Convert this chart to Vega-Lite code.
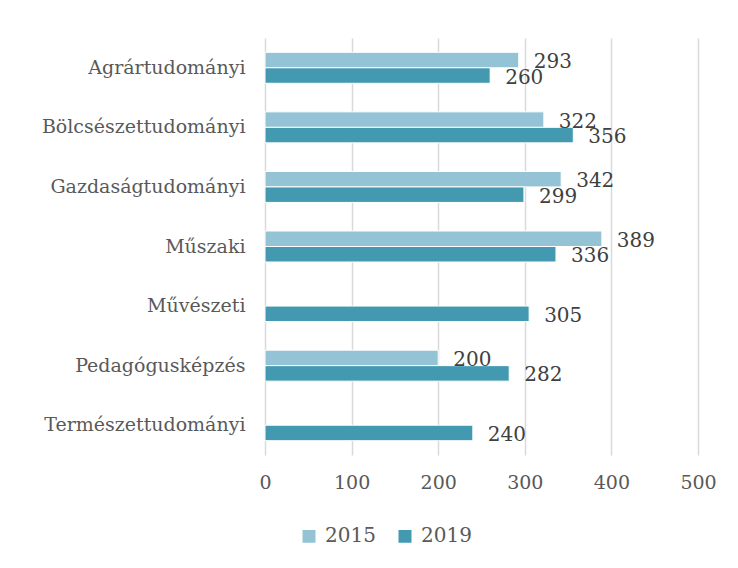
{
  "$schema": "https://vega.github.io/schema/vega-lite/v6.json",
  "autosize": "none",
  "width": 433,
  "height": 417,
  "padding": {"left": 265, "top": 38, "right": 40, "bottom": 113},
  "background": "white",
  "config": {
    "view": {"stroke": null},
    "font": "DejaVu Serif"
  },
  "data": {
    "values": [
      {"kar": "Agrártudományi", "ev": "2015", "ertek": 293},
      {"kar": "Agrártudományi", "ev": "2019", "ertek": 260},
      {"kar": "Bölcsészettudományi", "ev": "2015", "ertek": 322},
      {"kar": "Bölcsészettudományi", "ev": "2019", "ertek": 356},
      {"kar": "Gazdaságtudományi", "ev": "2015", "ertek": 342},
      {"kar": "Gazdaságtudományi", "ev": "2019", "ertek": 299},
      {"kar": "Műszaki", "ev": "2015", "ertek": 389},
      {"kar": "Műszaki", "ev": "2019", "ertek": 336},
      {"kar": "Művészeti", "ev": "2019", "ertek": 305},
      {"kar": "Pedagógusképzés", "ev": "2015", "ertek": 200},
      {"kar": "Pedagógusképzés", "ev": "2019", "ertek": 282},
      {"kar": "Természettudományi", "ev": "2019", "ertek": 240}
    ]
  },
  "encoding": {
    "y": {
      "field": "kar",
      "type": "nominal",
      "sort": null,
      "scale": {"paddingInner": 0.48, "paddingOuter": 0.24},
      "axis": {
        "title": null,
        "domain": false,
        "ticks": false,
        "labelPadding": 20,
        "labelFontSize": 19,
        "labelLimit": 300,
        "labelColor": "#595959",
        "labelFont": "DejaVu Serif"
      }
    },
    "yOffset": {"field": "ev", "type": "nominal", "scale": {"domain": ["2015", "2019"]}},
    "x": {
      "field": "ertek",
      "type": "quantitative",
      "scale": {"domain": [0, 500]},
      "axis": {
        "title": null,
        "domain": false,
        "ticks": false,
        "values": [0, 100, 200, 300, 400, 500],
        "labelOverlap": false,
        "labelFlush": false,
        "labelPadding": 18,
        "labelFontSize": 19,
        "labelColor": "#595959",
        "labelFont": "DejaVu Serif",
        "gridColor": "#D9D9D9",
        "gridWidth": 1.5
      }
    }
  },
  "layer": [
    {
      "mark": {"type": "bar", "stroke": "white", "strokeWidth": 1},
      "encoding": {
        "color": {
          "field": "ev",
          "type": "nominal",
          "scale": {"domain": ["2015", "2019"], "range": ["#93C3D4", "#4299B0"]},
          "legend": {
            "title": null,
            "orient": "none",
            "legendX": 34,
            "legendY": 488,
            "direction": "horizontal",
            "symbolType": "square",
            "symbolSize": 210,
            "labelFontSize": 20,
            "labelColor": "#595959",
            "labelFont": "DejaVu Serif",
            "labelOffset": 6,
            "columnPadding": 18
          }
        }
      }
    },
    {
      "mark": {"type": "text", "align": "left", "baseline": "middle", "dx": 15, "dy": 2, "fontSize": 20, "color": "#404040"},
      "encoding": {"text": {"field": "ertek", "type": "quantitative"}}
    }
  ]
}
